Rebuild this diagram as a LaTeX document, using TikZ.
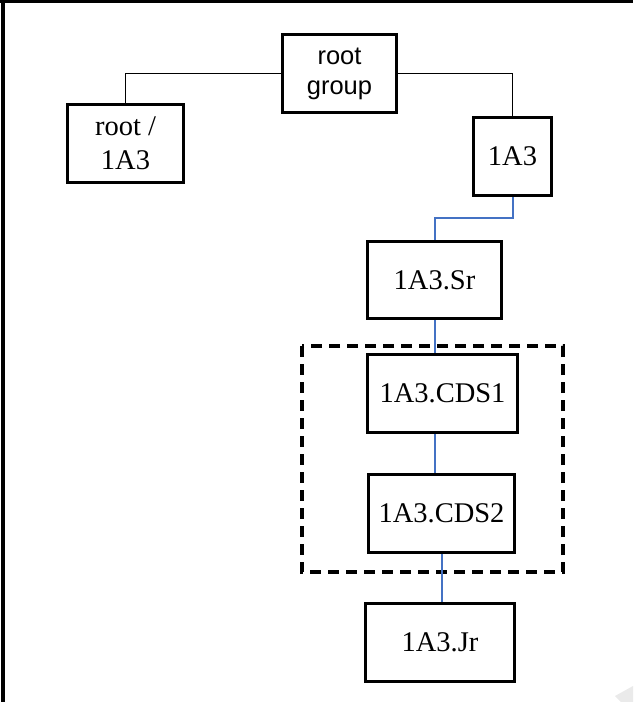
\documentclass[tikz,border=0pt]{standalone}
\usepackage{fontspec}
\setmainfont{Liberation Serif}
\newfontfamily\labelsans{Liberation Sans}
\definecolor{linkblue}{RGB}{68,114,196}
\definecolor{markgray}{RGB}{234,234,234}
\begin{document}
\begin{tikzpicture}[x=1pt,y=-1pt,
  box/.style={draw=black, line width=3.2pt, rectangle, inner sep=0pt,
    align=center, font=\fontsize{28.5}{34}\selectfont},
  sansbox/.style={box, font=\labelsans\fontsize{25.5}{30}\selectfont},
  tree/.style={draw=black, line width=1.9pt},
  link/.style={draw=linkblue, line width=2pt},
  groupframe/.style={draw=black, line width=3.6pt, dash pattern=on 11pt off 7pt},
  frame/.style={draw=black, line width=3.6pt}]
\useasboundingbox (0,0) rectangle (633,702);

% page frame (top and left edges)
\draw[frame] (0,1.5) -- (633,1.5);
\draw[frame] (3,0) -- (3,702);

% faint corner mark
\fill[markgray] (633,686) -- (615,696) -- (621,702) -- (633,702) -- cycle;

% dashed grouping around the CDS levels
\draw[groupframe] (302,346) rectangle (563,572);

% boxes
\node[sansbox, minimum width=113.8, minimum height=77.8] (rg) at (339.5,73.5) {root\\group};
\node[box, minimum width=115.8, minimum height=77.8] (ra) at (125.5,143.5) {root /\\1A3};
\node[box, minimum width=77.8, minimum height=77.8] (a3) at (512.5,156.5) {1A3};
\node[box, minimum width=133.8, minimum height=76.8] (sr) at (434.5,280) {1A3.Sr};
\node[box, minimum width=149.8, minimum height=77.8] (cds1) at (442.5,393.5) {1A3.CDS1};
\node[box, minimum width=145.8, minimum height=77.8] (cds2) at (441.5,513.5) {1A3.CDS2};
\node[box, minimum width=148.8, minimum height=77.8] (jr) at (440,642.5) {1A3.Jr};

% tree connectors
\draw[tree] (rg.west) -| (ra.north);
\draw[tree] (rg.east) -| (a3.north);

% chain links
\draw[link] (a3.south) -- ++(0,21) -| (sr.north);
\draw[link] (sr.south) -- (sr.south |- cds1.north);
\draw[link] (sr.south |- cds1.south) -- (sr.south |- cds2.north);
\draw[link] (cds2.south) -- (cds2.south |- jr.north);
\end{tikzpicture}
\end{document}
